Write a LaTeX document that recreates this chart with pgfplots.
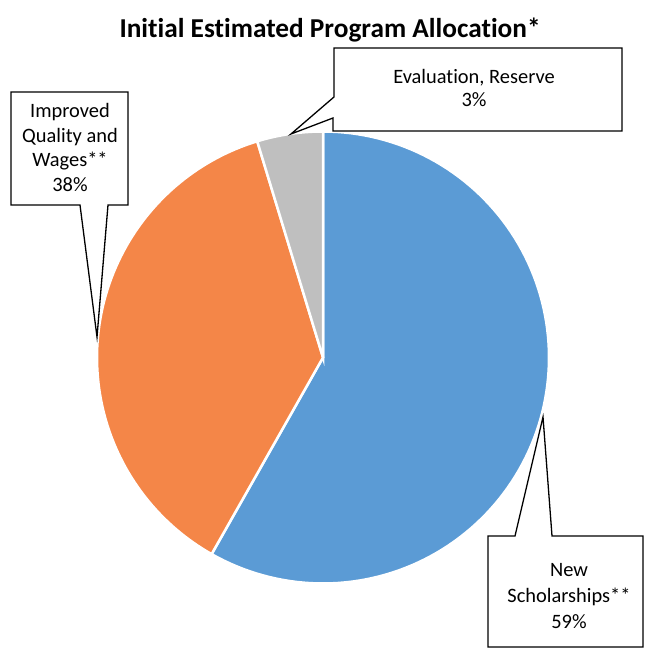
\documentclass[border=0pt]{standalone}
\usepackage{pgfplots}
\pgfplotsset{compat=1.18}
\usepackage{fontspec}
\setmainfont{Carlito}[Ligatures={NoCommon}]
\definecolor{sliceblue}{RGB}{91,155,213}
\definecolor{sliceorange}{RGB}{244,134,72}
\definecolor{slicegray}{RGB}{191,191,191}
% slice values (percent of the full circle, as drawn)
\def\vBlue{58.2}
\def\vOrange{37.1}
\def\vGray{4.7}
\begin{document}
\begin{tikzpicture}
\pgfmathsetmacro{\aA}{90}
\pgfmathsetmacro{\aB}{\aA-3.6*\vBlue}
\pgfmathsetmacro{\aC}{\aB-3.6*\vOrange}
\pgfmathsetmacro{\aD}{\aC-3.6*\vGray}
\begin{axis}[
  width=649bp, height=651bp, scale only axis,
  xmin=0, xmax=649, ymin=0, ymax=651,
  hide axis, clip=false,
]
\def\cx{323}\def\cy{293.5}\def\r{226}
\addplot[fill=sliceblue, draw=white, line width=2.5pt, domain=\aB:\aA, samples=120, variable=\t]
  ({\cx+\r*cos(\t)},{\cy+\r*sin(\t)}) -- (axis cs:\cx,\cy) -- cycle;
\addplot[fill=sliceorange, draw=white, line width=2.5pt, domain=\aC:\aB, samples=90, variable=\t]
  ({\cx+\r*cos(\t)},{\cy+\r*sin(\t)}) -- (axis cs:\cx,\cy) -- cycle;
\addplot[fill=slicegray, draw=white, line width=2.5pt, domain=\aD:\aC, samples=20, variable=\t]
  ({\cx+\r*cos(\t)},{\cy+\r*sin(\t)}) -- (axis cs:\cx,\cy) -- cycle;

% title
\node[font=\fontsize{27.4}{31}\selectfont\bfseries] at (axis cs:330,621) {Initial Estimated Program Allocation*};

% left callout
\draw[line width=1.3pt, fill=white] (axis cs:11,559) -- (axis cs:128,559) -- (axis cs:128,446) -- (axis cs:108,446)
  -- (axis cs:97,314) -- (axis cs:80,446) -- (axis cs:11,446) -- cycle;
\node[font=\fontsize{20.5}{25}\selectfont, align=center] at (axis cs:70,503.5) {Improved\\Quality and\\Wages**\\38\%};

% top callout
\draw[line width=1.3pt, fill=white] (axis cs:334,603) -- (axis cs:622,603) -- (axis cs:622,520) -- (axis cs:333,520)
  -- (axis cs:333,533) -- (axis cs:291,517) -- (axis cs:334,554) -- cycle;
\node[font=\fontsize{20.5}{23}\selectfont, align=center] at (axis cs:474,563) {Evaluation, Reserve\\3\%};

% bottom-right callout
\draw[line width=1.3pt, fill=white] (axis cs:488,115) -- (axis cs:515,115) -- (axis cs:543,234) -- (axis cs:552,115)
  -- (axis cs:643,115) -- (axis cs:643,4) -- (axis cs:488,4) -- cycle;
\node[font=\fontsize{20.5}{26}\selectfont, align=center] at (axis cs:569,55) {New\\Scholarships**\\59\%};

\coordinate (BL) at (axis cs:0,0);
\coordinate (TR) at (axis cs:649,651);
\end{axis}
\pgfresetboundingbox
\useasboundingbox (BL) rectangle (TR);
\end{tikzpicture}
\end{document}
